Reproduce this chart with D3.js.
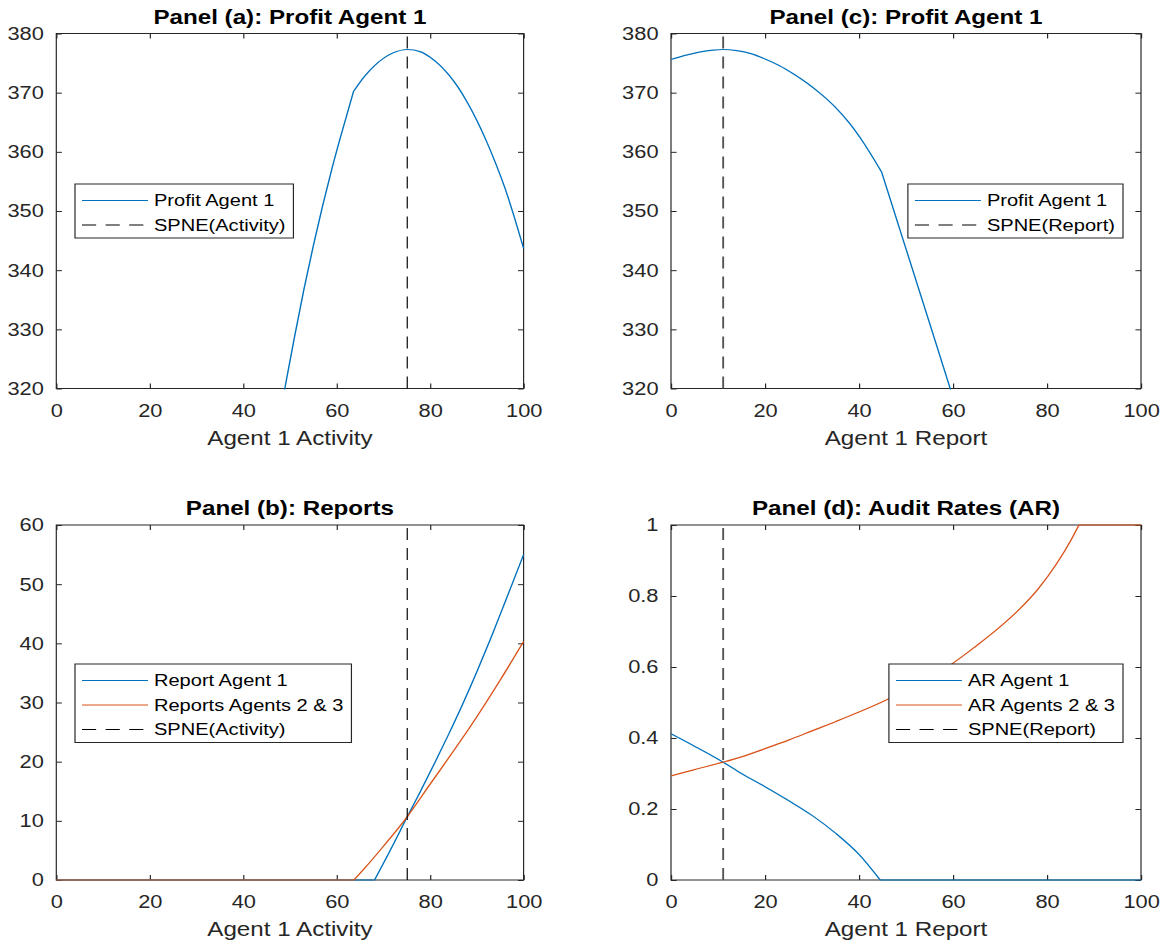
<!DOCTYPE html>
<meta charset="utf-8">
<style>
body { margin: 0; background: #fff; }
text { font-family: "Liberation Sans", Arial, Helvetica, sans-serif; }
</style>
<svg width="1174" height="945"></svg>
<script src="https://d3js.org/d3.v7.min.js"></script>
<script>

// tick values
var xTicks = [0, 20, 40, 60, 80, 100];
var profitTicks = [320, 330, 340, 350, 360, 370, 380];
var reportTicks = [0, 10, 20, 30, 40, 50, 60];
var auditTicks = [0, 0.2, 0.4, 0.6, 0.8, 1];

// equilibrium points
var spneActivity = 75.1;
var spneReport = 11.1;

// panel (a): profit of agent 1 vs activity
var activityA = [47, 48.9, 51, 53, 55, 57, 59, 61, 63.6, 66, 68, 70, 72, 75.1, 78, 80, 82, 84, 86, 88, 90, 92, 94, 96, 98, 100];
var profitA = [312, 320, 328.8, 336.8, 344.1, 350.9, 357.2, 363.0, 370.2, 372.8, 374.5, 375.8, 376.7, 377.3, 376.9, 376.0, 374.7, 373.0, 370.9, 368.3, 365.3, 361.9, 358.1, 353.9, 349.0, 343.7];

// panel (b): reports vs activity
var activityB1 = [0, 68.1, 71, 75.2, 78, 81, 84, 87, 90, 93, 96, 100];
var report1 = [0, 0, 4.3, 10.8, 15.1, 19.8, 24.7, 29.8, 35.2, 40.9, 46.9, 55];
var activityB23 = [0, 63.7, 66, 70, 75.2, 80, 85, 90, 95, 100];
var report23 = [0, 0, 2.0, 5.7, 10.8, 16.2, 21.8, 27.6, 33.8, 40.3];

// panel (c): profit of agent 1 vs report
var reportC = [0, 3, 6, 9, 11.1, 14, 17, 20, 23, 26, 29, 32, 35, 38, 41, 44.8, 50, 55, 60];
var profitC = [375.6, 376.3, 376.85, 377.2, 377.3, 377.1, 376.6, 375.7, 374.6, 373.2, 371.6, 369.7, 367.5, 364.8, 361.5, 356.6, 343.6, 331.1, 318.5];

// panel (d): audit rates vs report
var reportD1 = [0, 5, 11.1, 15, 20, 25, 30, 35, 40, 44.5, 100];
var audit1 = [0.412, 0.377, 0.332, 0.300, 0.263, 0.224, 0.182, 0.132, 0.072, 0, 0];
var reportD23 = [0, 5, 11.1, 15, 20, 25, 30, 35, 40, 45, 50, 55, 59.7, 65, 70, 74.3, 78, 82, 85, 86.8, 100];
var audit23 = [0.293, 0.311, 0.332, 0.347, 0.370, 0.394, 0.420, 0.446, 0.473, 0.502, 0.535, 0.571, 0.608, 0.660, 0.713, 0.765, 0.818, 0.890, 0.955, 1, 1];

// x positions where a curve has a corner (kept sharp)
var kinksA = [63.6];
var kinksB1 = [68.1];
var kinksB23 = [63.7];
var kinksC = [44.8];
var kinksD1 = [44.5];
var kinksD23 = [86.8];

var blue = "#0072BD", orange = "#D95319", axisColor = "#262626";

// the figure is stretched horizontally, so draw in a scaled group
var S = 1.18;
function vx(px) { return px / S; }

var svg = d3.select("svg");
var root = svg.append("g").attr("transform", "scale(" + S + ",1)");

function zip(xs, ys) { return xs.map(function(d, i) { return [d, ys[i]]; }); }

// split a series into smooth pieces at its corners
function pieces(data, kinks) {
  var out = [], cur = [];
  data.forEach(function(d) {
    cur.push(d);
    if (kinks.indexOf(d[0]) >= 0) { out.push(cur); cur = [d]; }
  });
  if (cur.length > 1) out.push(cur);
  return out;
}

var panels = [
  { title: "Panel (a): Profit Agent 1", xlabel: "Agent 1 Activity",
    left: 56.3, top: 33.5, width: 467.3, height: 355,
    ydomain: [320, 380], yticks: profitTicks, spne: spneActivity,
    series: [{ data: zip(activityA, profitA), kinks: kinksA, color: blue, name: "Profit Agent 1" }],
    spneName: "SPNE(Activity)", spneColor: "#000", spneWidth: 1,
    legend: { left: 75, top: 184 } },
  { title: "Panel (c): Profit Agent 1", xlabel: "Agent 1 Report",
    left: 671, top: 33.5, width: 470, height: 355,
    ydomain: [320, 380], yticks: profitTicks, spne: spneReport,
    series: [{ data: zip(reportC, profitC), kinks: kinksC, color: blue, name: "Profit Agent 1" }],
    spneName: "SPNE(Report)", spneColor: "#555", spneWidth: 1.6,
    legend: { right: 1123, top: 184 } },
  { title: "Panel (b): Reports", xlabel: "Agent 1 Activity",
    left: 56.3, top: 525, width: 467.3, height: 355,
    ydomain: [0, 60], yticks: reportTicks, spne: spneActivity,
    series: [{ data: zip(activityB1, report1), kinks: kinksB1, color: blue, name: "Report Agent 1" },
             { data: zip(activityB23, report23), kinks: kinksB23, color: orange, name: "Reports Agents 2 & 3" }],
    spneName: "SPNE(Activity)", spneColor: "#000", spneWidth: 1,
    legend: { left: 75, top: 664 } },
  { title: "Panel (d): Audit Rates (AR)", xlabel: "Agent 1 Report",
    left: 671, top: 525, width: 470, height: 355,
    ydomain: [0, 1], yticks: auditTicks, spne: spneReport,
    series: [{ data: zip(reportD1, audit1), kinks: kinksD1, color: blue, name: "AR Agent 1" },
             { data: zip(reportD23, audit23), kinks: kinksD23, color: orange, name: "AR Agents 2 & 3" }],
    spneName: "SPNE(Report)", spneColor: "#555", spneWidth: 1.6,
    legend: { right: 1123, top: 664 } }
];

panels.forEach(function(p, pi) {
  var L = vx(p.left), W = vx(p.width), T = p.top, H = p.height;
  var x = d3.scaleLinear().domain([0, 100]).range([L, L + W]);
  var y = d3.scaleLinear().domain(p.ydomain).range([T + H, T]);

  var g = root.append("g");

  // axes, ticks pointing inward on all four sides
  var bottom = g.append("g").attr("transform", "translate(0," + (T + H) + ")")
    .call(d3.axisBottom(x).tickValues(xTicks).tickSize(-5).tickPadding(15).tickFormat(d3.format("d")));
  var top = g.append("g").attr("transform", "translate(0," + T + ")")
    .call(d3.axisTop(x).tickValues(xTicks).tickSize(-5).tickFormat(""));
  var left = g.append("g").attr("transform", "translate(" + L + ",0)")
    .call(d3.axisLeft(y).tickValues(p.yticks).tickSize(-vx(5.6)).tickPadding(vx(12.5)).tickFormat(function(d) { return String(d); }));
  var right = g.append("g").attr("transform", "translate(" + (L + W) + ",0)")
    .call(d3.axisRight(y).tickValues(p.yticks).tickSize(-vx(5.6)).tickFormat(""));
  [bottom, top, left, right].forEach(function(a) {
    a.attr("color", axisColor).attr("font-family", null).attr("font-size", 18.5);
    a.select(".domain").remove();
    a.selectAll("text").attr("fill", axisColor);
  });

  g.append("rect")
    .attr("x", L).attr("y", T).attr("width", W).attr("height", H)
    .attr("fill", "none").attr("stroke", axisColor).attr("stroke-width", 1);

  var clipId = "clip" + pi;
  g.append("clipPath").attr("id", clipId).append("rect")
    .attr("x", L - 1).attr("y", T - 1).attr("width", W + 2).attr("height", H + 2);

  var line = d3.line()
    .x(function(d) { return x(d[0]); })
    .y(function(d) { return y(d[1]); })
    .curve(d3.curveMonotoneX);

  var plot = g.append("g").attr("clip-path", "url(#" + clipId + ")");
  p.series.forEach(function(s) {
    plot.append("path")
      .attr("d", pieces(s.data, s.kinks).map(function(pc) { return line(pc); }).join(""))
      .attr("fill", "none")
      .attr("stroke", s.color)
      .attr("stroke-width", 1.2)
      .attr("stroke-linejoin", "round");
  });
  plot.append("line")
    .attr("x1", x(p.spne)).attr("x2", x(p.spne))
    .attr("y1", T + H).attr("y2", T)
    .attr("stroke", p.spneColor).attr("stroke-width", p.spneWidth)
    .attr("stroke-dasharray", "12,8");

  // title and label
  g.append("text")
    .attr("x", L + W / 2).attr("y", T - 9.5)
    .attr("text-anchor", "middle")
    .attr("font-size", 20.5).attr("font-weight", "bold")
    .attr("fill", "#000")
    .text(p.title);
  g.append("text")
    .attr("x", L + W / 2).attr("y", T + H + 56.5)
    .attr("text-anchor", "middle")
    .attr("font-size", 20.5)
    .attr("fill", axisColor)
    .text(p.xlabel);

  // legend
  var items = p.series.map(function(s) { return { name: s.name, color: s.color, dash: null }; });
  items.push({ name: p.spneName, color: "#000", dash: "12,8" });

  var lg = g.append("g");
  var box = lg.append("rect");
  var texts = [];
  var maxLen = 0;
  items.forEach(function(it) {
    var t = lg.append("text")
      .attr("font-size", 17)
      .attr("fill", "#000")
      .attr("dy", "0.35em")
      .text(it.name);
    maxLen = Math.max(maxLen, t.node().getComputedTextLength());
    texts.push(t);
  });
  var bw = vx(79) + maxLen + vx(8);
  var bh = 16.5 + (items.length - 1) * 24.5 + 13;
  var bl = p.legend.left != null ? vx(p.legend.left) : vx(p.legend.right) - bw;
  var bt = p.legend.top;
  box.attr("x", bl).attr("y", bt).attr("width", bw).attr("height", bh)
    .attr("fill", "#fff").attr("stroke", axisColor).attr("stroke-width", 1);
  items.forEach(function(it, i) {
    var cy = bt + 16.5 + i * 24.5;
    lg.append("line")
      .attr("x1", bl + vx(7)).attr("x2", bl + vx(73))
      .attr("y1", cy).attr("y2", cy)
      .attr("stroke", it.color).attr("stroke-width", 1.2)
      .attr("stroke-dasharray", it.dash);
    texts[i].attr("x", bl + vx(79)).attr("y", cy);
  });
});

</script>
